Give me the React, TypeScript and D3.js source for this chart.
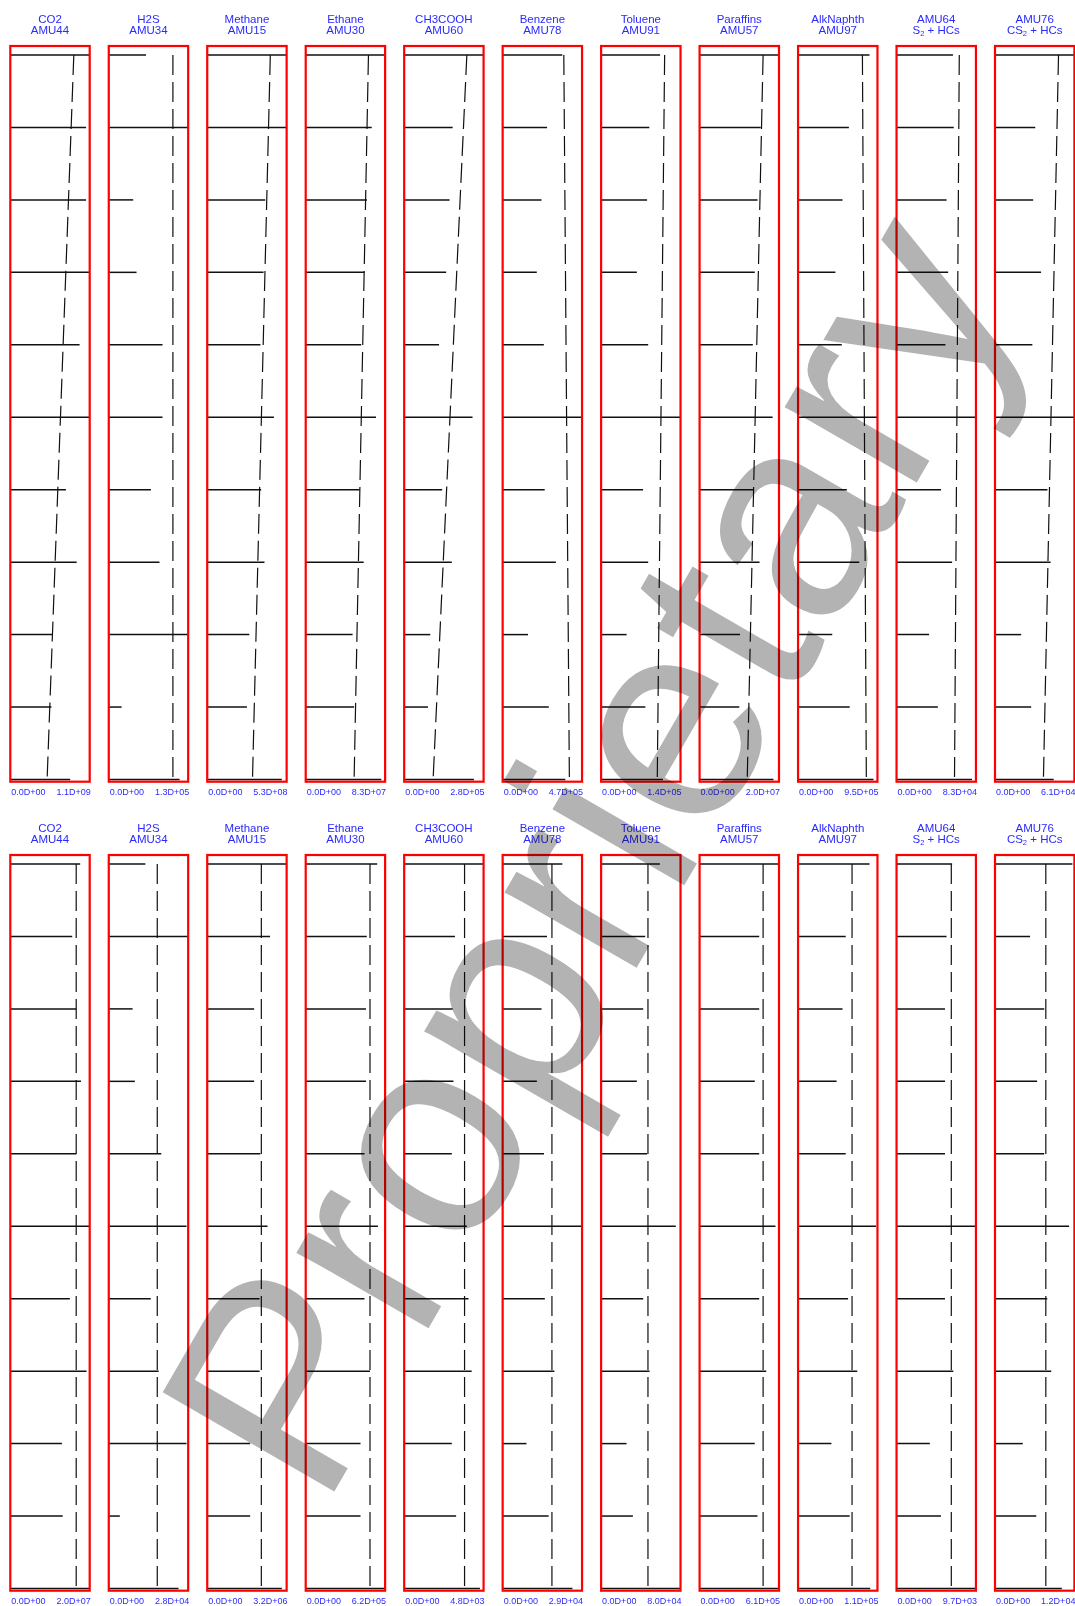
import React from 'react';
import * as d3 from 'd3';

// ---------- DATA ----------
const species = ['CO2', 'H2S', 'Methane', 'Ethane', 'CH3COOH', 'Benzene', 'Toluene', 'Paraffins', 'AlkNaphth', 'AMU64', 'AMU76'];
const secondLine = ['AMU44', 'AMU34', 'AMU15', 'AMU30', 'AMU60', 'AMU78', 'AMU91', 'AMU57', 'AMU97', 'S2 + HCs', 'CS2 + HCs'];

const upperMax = [1.1e9, 1.3e5, 5.3e8, 8.3e7, 2.8e5, 4.7e5, 1.4e5, 2.0e7, 9.5e5, 8.3e4, 6.1e4];
const upperMaxLabels = ['1.1D+09', '1.3D+05', '5.3D+08', '8.3D+07', '2.8D+05', '4.7D+05', '1.4D+05', '2.0D+07', '9.5D+05', '8.3D+04', '6.1D+04'];
const lowerMax = [2.0e7, 2.8e4, 3.2e6, 6.2e5, 4.8e3, 2.9e4, 8.0e4, 6.1e5, 1.1e5, 9.7e3, 1.2e4];
const lowerMaxLabels = ['2.0D+07', '2.8D+04', '3.2D+06', '6.2D+05', '4.8D+03', '2.9D+04', '8.0D+04', '6.1D+05', '1.1D+05', '9.7D+03', '1.2D+04'];
const minLabel = '0.0D+00';

const upperCO2 = [1.12e9, 1.05e9, 1.05e9, 1.13e9, 0.96e9, 1.15e9, 0.77e9, 0.92e9, 0.59e9, 0.57e9, 0.83e9];
const upperH2S = [0.61e5, 1.32e5, 0.40e5, 0.455e5, 0.88e5, 0.88e5, 0.69e5, 0.83e5, 1.29e5, 0.21e5, 1.16e5];
const upperMethane = [5.4e8, 5.4e8, 3.87e8, 3.76e8, 3.55e8, 4.45e8, 3.6e8, 3.82e8, 2.81e8, 2.65e8, 4.98e8];
const upperEthane = [8.4e7, 6.9e7, 6.4e7, 6.14e7, 5.8e7, 7.35e7, 5.64e7, 6.06e7, 4.9e7, 5.06e7, 7.9e7];
const upperCH3COOH = [2.85e5, 1.71e5, 1.6e5, 1.48e5, 1.23e5, 2.41e5, 1.34e5, 1.68e5, 0.92e5, 0.84e5, 2.46e5];
const upperBenzene = [3.53e5, 2.63e5, 2.3e5, 2.02e5, 2.44e5, 4.8e5, 2.49e5, 3.15e5, 1.5e5, 2.73e5, 3.71e5];
const upperToluene = [1.04e5, 0.85e5, 0.81e5, 0.63e5, 0.83e5, 1.42e5, 0.74e5, 0.83e5, 0.45e5, 0.78e5, 1.09e5];
const upperParaffins = [2.02e7, 1.54e7, 1.46e7, 1.39e7, 1.34e7, 1.84e7, 1.36e7, 1.51e7, 1.02e7, 1.0e7, 1.86e7];
const upperAlkNaphth = [8.55e5, 6.08e5, 5.32e5, 4.47e5, 5.23e5, 9.6e5, 5.84e5, 7.32e5, 4.09e5, 6.18e5, 9.03e5];
const upperAMU64 = [5.9e4, 5.98e4, 5.23e4, 5.4e4, 5.11e4, 8.4e4, 4.65e4, 5.81e4, 3.4e4, 4.32e4, 7.89e4];
const upperAMU76 = [6.2e4, 3.09e4, 2.93e4, 3.54e4, 2.87e4, 6.2e4, 4.03e4, 4.27e4, 2.01e4, 2.78e4, 4.51e4];
const upperTrendTop = [0.88e9, 1.05e5, 4.21e8, 6.56e7, 2.21e5, 3.62e5, 1.12e5, 1.6e7, 7.7e5, 6.56e4, 4.88e4];
const upperTrendBottom = [0.51e9, 1.05e5, 3.02e8, 5.06e7, 1.02e5, 3.95e5, 0.99e5, 1.2e7, 8.17e5, 6.06e4, 3.72e4];

const lowerCO2 = [1.76e7, 1.56e7, 1.66e7, 1.78e7, 1.66e7, 2.02e7, 1.5e7, 1.92e7, 1.3e7, 1.32e7, 2.02e7];
const lowerH2S = [1.29e4, 2.82e4, 0.84e4, 0.92e4, 1.85e4, 2.74e4, 1.48e4, 1.76e4, 2.74e4, 0.39e4, 2.46e4];
const lowerMethane = [3.22e6, 2.53e6, 1.89e6, 1.89e6, 2.14e6, 2.43e6, 2.11e6, 2.11e6, 1.73e6, 1.73e6, 3.01e6];
const lowerEthane = [5.58e5, 4.77e5, 4.71e5, 4.71e5, 4.59e5, 5.64e5, 4.59e5, 5.02e5, 4.28e5, 4.28e5, 6.25e5];
const lowerCH3COOH = [4.85e3, 3.07e3, 2.93e3, 2.98e3, 2.88e3, 3.79e3, 3.89e3, 4.08e3, 2.88e3, 3.14e3, 4.58e3];
const lowerBenzene = [2.18e4, 1.62e4, 1.42e4, 1.25e4, 1.51e4, 2.95e4, 1.54e4, 1.89e4, 0.87e4, 1.68e4, 2.55e4];
const lowerToluene = [5.92e4, 4.44e4, 4.24e4, 3.6e4, 4.64e4, 7.52e4, 4.24e4, 4.88e4, 2.56e4, 3.2e4, 8.1e4];
const lowerParaffins = [6.2e5, 4.58e5, 4.58e5, 4.24e5, 4.58e5, 5.83e5, 4.58e5, 5.12e5, 4.24e5, 4.45e5, 6.2e5];
const lowerAlkNaphth = [0.99e5, 0.66e5, 0.616e5, 0.534e5, 0.66e5, 1.08e5, 0.693e5, 0.82e5, 0.462e5, 0.715e5, 1.0e5];
const lowerAMU64 = [6.79e3, 6.11e3, 5.92e3, 5.92e3, 5.92e3, 9.6e3, 5.92e3, 6.94e3, 4.07e3, 5.43e3, 9.6e3];
const lowerAMU76 = [1.17e4, 0.53e4, 0.744e4, 0.636e4, 0.744e4, 1.12e4, 0.79e4, 0.85e4, 0.42e4, 0.624e4, 1.01e4];
const lowerTrendTop = [1.66e7, 1.71e4, 2.18e6, 5.02e5, 3.65e3, 1.8e4, 4.72e4, 4.88e5, 0.748e5, 6.69e3, 0.768e4];
const lowerTrendBottom = [1.66e7, 1.71e4, 2.18e6, 5.02e5, 3.65e3, 1.8e4, 4.72e4, 4.88e5, 0.748e5, 6.69e3, 0.768e4];

const upperSeries = [upperCO2, upperH2S, upperMethane, upperEthane, upperCH3COOH, upperBenzene, upperToluene, upperParaffins, upperAlkNaphth, upperAMU64, upperAMU76];
const lowerSeries = [lowerCO2, lowerH2S, lowerMethane, lowerEthane, lowerCH3COOH, lowerBenzene, lowerToluene, lowerParaffins, lowerAlkNaphth, lowerAMU64, lowerAMU76];

const watermark = 'Proprietary';

// ---------- LAYOUT ----------
const W = 1075;
const H = 1606;
const PANEL_X0 = 10.3;
const PITCH = 98.47;
const PANEL_W = 79.4;
const RECT_TOP = 46;
const RECT_BOTTOM = 781.7;
const BAR_TOP = 55;
const BAR_BOTTOM = 779.5;
const ROW_OFFSET = 809;
const FONT = '"Liberation Sans", Arial, Helvetica, sans-serif';
const BLUE = '#2a2aff';
const WM_X = 588;
const WM_Y = 852;
const WM_ANGLE = -60;

const rows = [
  { series: upperSeries, max: upperMax, maxLabels: upperMaxLabels, trendTop: upperTrendTop, trendBottom: upperTrendBottom },
  { series: lowerSeries, max: lowerMax, maxLabels: lowerMaxLabels, trendTop: lowerTrendTop, trendBottom: lowerTrendBottom },
];

function SecondLine({ label }: { label: string }) {
  const m = label.match(/^(C?S)2(.*)$/);
  if (!m) return <>{label}</>;
  return (
    <>
      <tspan>{m[1]}</tspan>
      <tspan fontSize={7.5} dy={2}>2</tspan>
      <tspan dy={-2}>{m[2]}</tspan>
    </>
  );
}

export default function App() {
  const yScale = d3.scaleLinear().domain([0, 10]).range([BAR_TOP, BAR_BOTTOM]);
  return (
    <svg width={W} height={H} style={{ position: 'absolute', left: 0, top: 0, display: 'block', background: '#fff' }} fontFamily={FONT}>
      <rect x={0} y={0} width={W} height={H} fill="#fff" />
      {rows.map((row, r) => {
        const oy = r * ROW_OFFSET;
        return (
          <g key={r} transform={`translate(0,${oy})`}>
            {species.map((name, i) => {
              const x0 = PANEL_X0 + i * PITCH;
              const x = d3.scaleLinear().domain([0, row.max[i]]).range([x0, x0 + PANEL_W]).clamp(true);
              const vals = row.series[i];
              const cx = x0 + PANEL_W / 2;
              const trendLine = d3.line<[number, number]>().x((d) => x(d[0])).y((d) => yScale(d[1]));
              return (
                <g key={name}>
                  <text x={cx} y={23} textAnchor="middle" fontSize={11.5} fill={BLUE}>{name}</text>
                  <text x={cx} y={33.5} textAnchor="middle" fontSize={11.5} fill={BLUE}>
                    <SecondLine label={secondLine[i]} />
                  </text>
                  {vals.map((v, j) => (
                    <line key={j} x1={x(0)} x2={x(v)} y1={yScale(j)} y2={yScale(j)} stroke="#111" strokeWidth={1.5} />
                  ))}
                  <path
                    d={trendLine([[row.trendTop[i], 0], [row.trendBottom[i], 10]]) || ''}
                    fill="none"
                    stroke="#111"
                    strokeWidth={1.2}
                    strokeDasharray="20,7"
                  />
                  <rect x={x0} y={RECT_TOP} width={PANEL_W} height={RECT_BOTTOM - RECT_TOP} fill="none" stroke="#ff0000" strokeWidth={2.2} />
                  <text x={x0 + 1} y={794.5} fontSize={9} fill={BLUE}>{minLabel}</text>
                  <text x={x0 + PANEL_W + 1} y={794.5} fontSize={9} fill={BLUE} textAnchor="end">{row.maxLabels[i]}</text>
                </g>
              );
            })}
          </g>
        );
      })}
      <text
        x={WM_X}
        y={WM_Y}
        textAnchor="middle"
        dominantBaseline="central"
        fontSize={288}
        fill="#b3b3b3"
        transform={`rotate(${WM_ANGLE}, ${WM_X}, ${WM_Y})`}
        style={{ mixBlendMode: 'multiply' }}
      >
        {watermark}
      </text>
    </svg>
  );
}
